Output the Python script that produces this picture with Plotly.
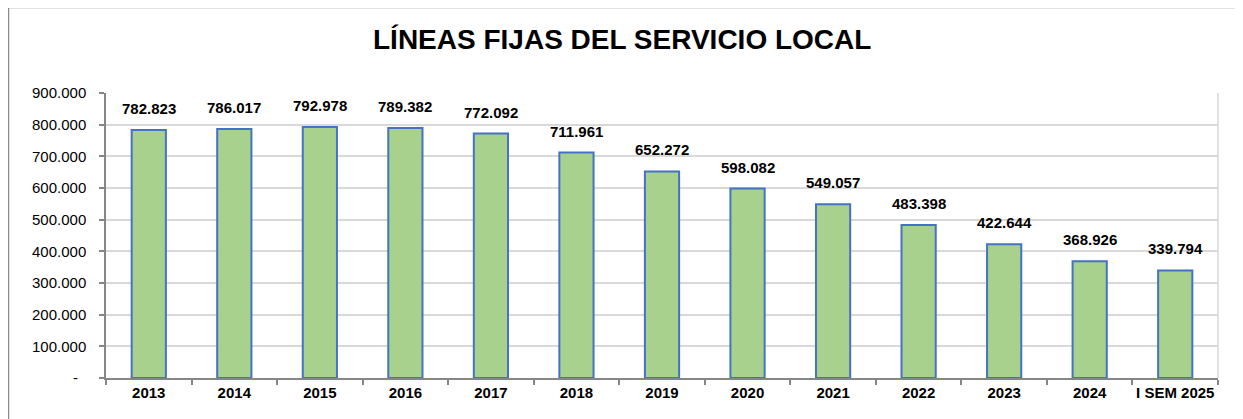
import plotly.graph_objects as go

categories = ["2013", "2014", "2015", "2016", "2017", "2018", "2019", "2020",
              "2021", "2022", "2023", "2024", "I SEM 2025"]
values = [782823, 786017, 792978, 789382, 772092, 711961, 652272, 598082,
          549057, 483398, 422644, 368926, 339794]
y_tickvals = [0, 100000, 200000, 300000, 400000, 500000, 600000, 700000, 800000, 900000]
y_ticktext = ["-\u00a0\u00a0", "100.000", "200.000", "300.000", "400.000", "500.000",
              "600.000", "700.000", "800.000", "900.000"]
title_text = "LÍNEAS FIJAS DEL SERVICIO LOCAL"

# page body has an 8px margin, so figure coords = screen coords - 8
OFF = 8
W, H = 1243 - OFF, 419 - OFF
L, R, T, B = 106 - OFF, 25, 93 - OFF, 41
PW = W - L - R
PH = H - T - B

FONT = "Arial, Liberation Sans, sans-serif"

def fmt(v):
    return f"{v:,}".replace(",", ".")

def py(screen_y):
    return (H - B - (screen_y - OFF)) / PH

def px(screen_x):
    return ((screen_x - OFF) - L) / PW

fig = go.Figure()
fig.add_trace(go.Bar(
    x=categories, y=values,
    marker=dict(color="#A9D18E", line=dict(color="#4472C4", width=2)),
    hoverinfo="x+y",
))

annotations = []
for i, v in enumerate(values):
    annotations.append(dict(
        x=i, y=v, xref="x", yref="y", text=fmt(v), showarrow=False,
        yanchor="bottom", yshift=11,
        font=dict(family=FONT, size=15, color="#000000", weight="bold"),
    ))
annotations.append(dict(
    x=px(622), y=py(39), xref="paper", yref="paper",
    text=title_text, showarrow=False, xanchor="center", yanchor="middle",
    font=dict(family=FONT, size=28, color="#000000", weight="bold"),
))

shapes = [
    # outer chart frame
    dict(type="rect", xref="paper", yref="paper",
         x0=px(8.5), x1=px(1270),
         y0=py(440), y1=py(7.5),
         line=dict(color="#8C8C8C", width=1.5), fillcolor="rgba(0,0,0,0)", layer="below"),
    # right border of plot area
    dict(type="line", xref="paper", yref="paper", x0=1, x1=1, y0=0, y1=1,
         line=dict(color="#D9D9D9", width=1.5), layer="below"),
]

fig.update_layout(
    width=W, height=H,
    margin=dict(l=L, r=R, t=T, b=B),
    paper_bgcolor="white", plot_bgcolor="white",
    bargap=0.6,
    showlegend=False,
    annotations=annotations,
    shapes=shapes,
    font=dict(family=FONT, size=15, color="#000000"),
)
fig.update_xaxes(
    type="category",
    range=[-0.5, len(categories) - 0.5],
    showline=True, linecolor="#868686", linewidth=1.5,
    ticks="outside", tickson="boundaries", ticklen=5, tickcolor="#868686", tickwidth=1.5,
    tickfont=dict(family=FONT, size=15, color="#000000", weight="bold"),
    tickangle=0,
    showgrid=False,
)
fig.update_yaxes(
    range=[0, 900000],
    tickvals=y_tickvals, ticktext=y_ticktext,
    showline=True, linecolor="#868686", linewidth=1.5,
    ticks="outside", ticklen=5, tickcolor="#868686", tickwidth=1.5,
    ticklabelstandoff=10,
    showgrid=True, gridcolor="#D9D9D9", gridwidth=1.5,
    zeroline=False,
    tickfont=dict(family=FONT, size=15, color="#000000"),
)

fig.write_html("out.html")
